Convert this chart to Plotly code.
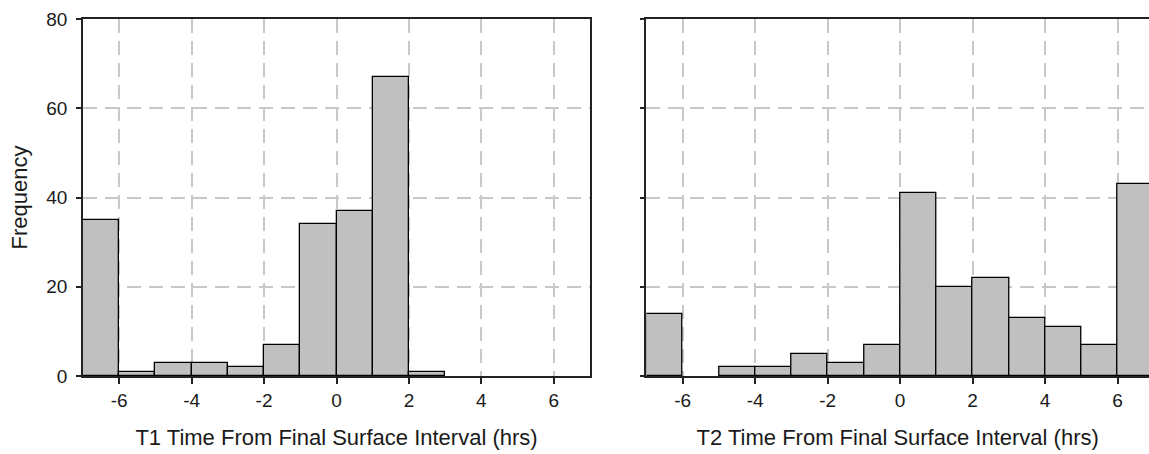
import plotly.graph_objects as go

# T1 histogram: bin left edges (hrs) and counts
t1_left = [-7, -6, -5, -4, -3, -2, -1, 0, 1, 2]
t1_width = [1, 1, 1, 1, 1, 1, 1, 1, 1, 1]
t1_count = [35, 1, 3, 3, 2, 7, 34, 37, 67, 1]

# T2 histogram
t2_left = [-7, -6, -5, -4, -3, -2, -1, 0, 1, 2, 3, 4, 5, 6]
t2_width = [1, 1, 1, 1, 1, 1, 1, 1, 1, 1, 1, 1, 1, 1]
t2_count = [14, 0, 2, 2, 5, 3, 7, 41, 20, 22, 13, 11, 7, 43]

x_tick_vals = [-6, -4, -2, 0, 2, 4, 6]
x_tick_text = ["-6", "-4", "-2", "0", "2", "4", "6"]
y_tick_vals = [0, 20, 40, 60, 80]


def bar_marker(counts):
    # no outline for empty bins
    return dict(color="#c0c0c0",
                line=dict(color="black", width=[1.3 if c > 0 else 0 for c in counts]))


fig = go.Figure()
fig.add_trace(go.Bar(x=t1_left, y=t1_count, width=t1_width, offset=0, marker=bar_marker(t1_count),
                     xaxis="x", yaxis="y", showlegend=False))
fig.add_trace(go.Bar(x=t2_left, y=t2_count, width=t2_width, offset=0, marker=bar_marker(t2_count),
                     xaxis="x2", yaxis="y2", showlegend=False))

W, H = 1149, 454
FAM = "Liberation Sans, Arial, sans-serif"
tick_font = dict(family=FAM, size=19, color="#1a1a1a")
title_font = dict(family=FAM, size=22, color="#1a1a1a")
grid = dict(showgrid=True, gridcolor="#c8c8c8", gridwidth=1.5, griddash="14px,8px")
common_x = dict(tickvals=x_tick_vals, ticktext=x_tick_text, ticks="outside", ticklen=6,
                tickcolor="#222", tickwidth=1.5,
                showline=True, linecolor="#222", linewidth=1.8, zeroline=False,
                tickfont=tick_font, automargin=False, **grid)
common_y = dict(range=[0, 80], tickvals=y_tick_vals, ticks="outside", ticklen=5,
                tickcolor="#222", tickwidth=1.5,
                showline=True, linecolor="#222", linewidth=1.8, zeroline=False,
                tickfont=tick_font, automargin=False, **grid)

fig.update_layout(
    width=W, height=H,
    margin=dict(l=0, r=0, t=19, b=78),
    paper_bgcolor="white", plot_bgcolor="white",
    bargap=0,
    xaxis=dict(domain=[83 / W, 590 / W], range=[-7, 7], mirror=True, anchor="y",
               title=dict(text="T1 Time From Final Surface Interval (hrs)", font=title_font, standoff=20),
               **common_x),
    yaxis=dict(domain=[0, 1], anchor="x", mirror=True, showticklabels=True, ticklabelstandoff=5,
               title=dict(text="Frequency", font=title_font, standoff=12), **common_y),
    xaxis2=dict(domain=[646.4 / W, 1.0], range=[-7, 6.865], mirror=True, anchor="y2",
                title=dict(text="T2 Time From Final Surface Interval (hrs)", font=title_font, standoff=20),
                **common_x),
    yaxis2=dict(domain=[0, 1], anchor="x2", mirror=False, showticklabels=False, **common_y),
)

fig.write_html("out.html")
